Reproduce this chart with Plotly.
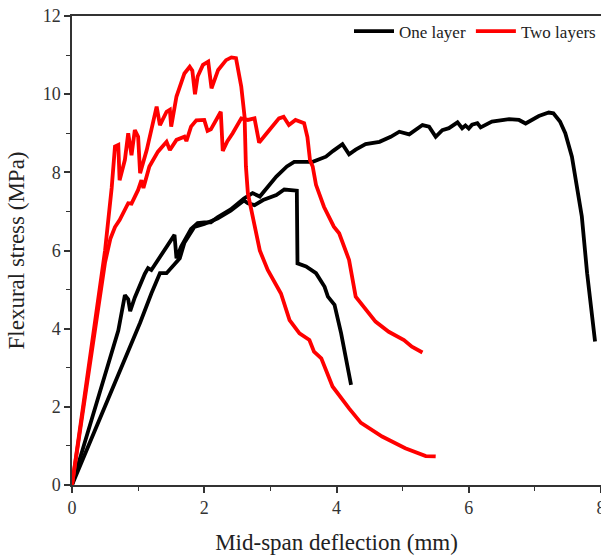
import plotly.graph_objects as go

# One layer, specimen A (long ductile curve)
one_a_x = [0, 0.25, 0.5, 0.7, 0.8, 0.85, 0.88, 0.95, 1.1, 1.15, 1.2, 1.4, 1.55, 1.58, 1.65, 1.8, 1.9, 2.0,
           2.1, 2.2, 2.4, 2.6, 2.73, 2.84, 2.95, 3.09, 3.25, 3.36, 3.64, 3.84, 3.95, 4.09, 4.19, 4.29, 4.44,
           4.65, 4.82, 4.95, 5.1, 5.3, 5.4, 5.5, 5.6, 5.7, 5.83, 5.9, 5.95, 6.0, 6.05, 6.13, 6.18, 6.35,
           6.61, 6.76, 6.86, 7.06, 7.21, 7.28, 7.38, 7.46, 7.56, 7.71, 7.79, 7.91]
one_a_y = [0, 1.4, 2.75, 3.95, 4.86, 4.75, 4.45, 4.8, 5.4, 5.55, 5.5, 6.0, 6.4, 5.8, 6.1, 6.55, 6.7, 6.72,
           6.72, 6.85, 7.05, 7.33, 7.47, 7.38, 7.6, 7.89, 8.15, 8.27, 8.27, 8.4, 8.55, 8.72, 8.46, 8.58, 8.72,
           8.78, 8.91, 9.04, 8.97, 9.21, 9.17, 8.91, 9.08, 9.13, 9.28, 9.13, 9.2, 9.12, 9.22, 9.26, 9.15, 9.3,
           9.36, 9.34, 9.25, 9.44, 9.53, 9.51, 9.3, 9.0, 8.4, 6.87, 5.42, 3.67]

# One layer, specimen B (short curve)
one_b_x = [0, 0.35, 0.72, 0.88, 1.03, 1.2, 1.33, 1.43, 1.55, 1.63, 1.7, 1.85, 2.0, 2.2, 2.4, 2.6, 2.66,
           2.76, 2.89, 3.09, 3.21, 3.3, 3.4, 3.41, 3.54, 3.69, 3.82, 3.87, 3.97, 4.07, 4.14, 4.22]
one_b_y = [0, 1.4, 2.87, 3.5, 4.15, 4.9, 5.42, 5.42, 5.65, 5.8, 6.2, 6.6, 6.68, 6.82, 7.02, 7.28, 7.21,
           7.16, 7.29, 7.42, 7.56, 7.55, 7.53, 5.67, 5.59, 5.42, 5.07, 4.82, 4.61, 3.88, 3.2, 2.56]

# Two layers, specimen C (highest peak)
two_c_x = [0, 0.3, 0.5, 0.6, 0.65, 0.7, 0.72, 0.8, 0.85, 0.9, 0.95, 1.0, 1.03, 1.13, 1.23, 1.28, 1.33, 1.43,
           1.48, 1.5, 1.58, 1.7, 1.78, 1.82, 1.86, 1.9, 1.98, 2.06, 2.11, 2.21, 2.33, 2.41, 2.48, 2.56, 2.61,
           2.63, 2.66, 2.73, 2.84, 2.96, 3.16, 3.29, 3.44, 3.59, 3.66, 3.77, 3.94, 4.19, 4.37, 4.69, 5.04,
           5.35, 5.5]
two_c_y = [0, 3.6, 6.0, 7.6, 8.66, 8.7, 7.8, 8.32, 9.0, 8.44, 9.08, 8.91, 7.98, 8.57, 9.25, 9.68, 9.21, 9.55,
           9.6, 9.17, 9.94, 10.53, 10.7, 10.6, 10.0, 10.45, 10.75, 10.83, 10.15, 10.62, 10.87, 10.94, 10.92,
           10.19, 9.42, 8.15, 7.46, 6.9, 6.0, 5.5, 4.9, 4.22, 3.88, 3.71, 3.41, 3.24, 2.52, 1.96, 1.59, 1.24,
           0.94, 0.74, 0.73]

# Two layers, specimen D (plateau curve)
two_d_x = [0, 0.25, 0.5, 0.58, 0.65, 0.72, 0.8, 0.85, 0.9, 1.0, 1.05, 1.08, 1.17, 1.3, 1.43, 1.48, 1.58,
           1.7, 1.73, 1.8, 1.88, 2.0, 2.05, 2.1, 2.25, 2.28, 2.35, 2.43, 2.56, 2.66, 2.76, 2.83, 2.92, 3.03,
           3.13, 3.2, 3.28, 3.38, 3.51, 3.56, 3.6, 3.64, 3.69, 3.81, 3.96, 4.04, 4.14, 4.19, 4.29, 4.49,
           4.59, 4.79, 5.02, 5.14, 5.3]
two_d_y = [0, 2.9, 5.7, 6.3, 6.6, 6.78, 7.04, 7.21, 7.2, 7.55, 7.8, 7.6, 8.15, 8.53, 8.78, 8.57, 8.83,
           8.91, 8.8, 9.17, 9.33, 9.34, 9.06, 9.1, 9.55, 8.55, 8.8, 9.0, 9.38, 9.34, 9.38, 8.76, 8.95, 9.17,
           9.38, 9.42, 9.21, 9.34, 9.26, 8.9, 8.3, 8.15, 7.68, 7.12, 6.61, 6.44, 6.01, 5.76, 4.82, 4.39,
           4.18, 3.92, 3.71, 3.54, 3.39]

x_ticks = [0, 2, 4, 6, 8]
y_ticks = [0, 2, 4, 6, 8, 10, 12]

FONT = "Liberation Serif, Times New Roman, serif"
BLACK = "#000000"
RED = "#ff0000"
LW = 3.8

fig = go.Figure()
fig.add_trace(go.Scatter(x=one_a_x, y=one_a_y, mode="lines", name="One layer",
                         line=dict(color=BLACK, width=LW), legendgroup="one"))
fig.add_trace(go.Scatter(x=one_b_x, y=one_b_y, mode="lines", name="One layer", showlegend=False,
                         line=dict(color=BLACK, width=LW), legendgroup="one"))
fig.add_trace(go.Scatter(x=two_c_x, y=two_c_y, mode="lines", name="Two layers",
                         line=dict(color=RED, width=LW), legendgroup="two"))
fig.add_trace(go.Scatter(x=two_d_x, y=two_d_y, mode="lines", name="Two layers", showlegend=False,
                         line=dict(color=RED, width=LW), legendgroup="two"))

axis_common = dict(
    showgrid=False, zeroline=False, showline=True, linecolor="#333333", linewidth=1.5,
    ticks="outside", ticklen=6, tickwidth=1.5, tickcolor="#333333", automargin=False,
    tickfont=dict(family=FONT, size=18, color="#333333"),
)
minor = dict(ticks="outside", ticklen=4, tickwidth=1.2, tickcolor="#333333", dtick=1, tick0=0)

fig.update_layout(
    width=601, height=557,
    margin=dict(l=72, r=0, t=16, b=72),
    plot_bgcolor="white", paper_bgcolor="white",
    font=dict(family=FONT, color="#222222"),
    showlegend=True,
    legend=dict(orientation="h", x=1.0, xanchor="right", y=1.005, yanchor="top",
                bgcolor="rgba(0,0,0,0)", font=dict(family=FONT, size=17, color="#222222"),
                itemwidth=40, tracegroupgap=0),
    xaxis=dict(range=[0, 8], tickvals=x_ticks, mirror=True, ticklabeloverflow="allow",
               title=dict(text="Mid-span deflection (mm)", font=dict(family=FONT, size=23, color="#222222"),
                          standoff=17),
               minor=minor, **axis_common),
    yaxis=dict(range=[0, 12], tickvals=y_ticks,
               title=dict(text="Flexural stress (MPa)", font=dict(family=FONT, size=23, color="#222222"),
                          standoff=12),
               minor=minor, **axis_common),
)

fig.write_html("out.html")
